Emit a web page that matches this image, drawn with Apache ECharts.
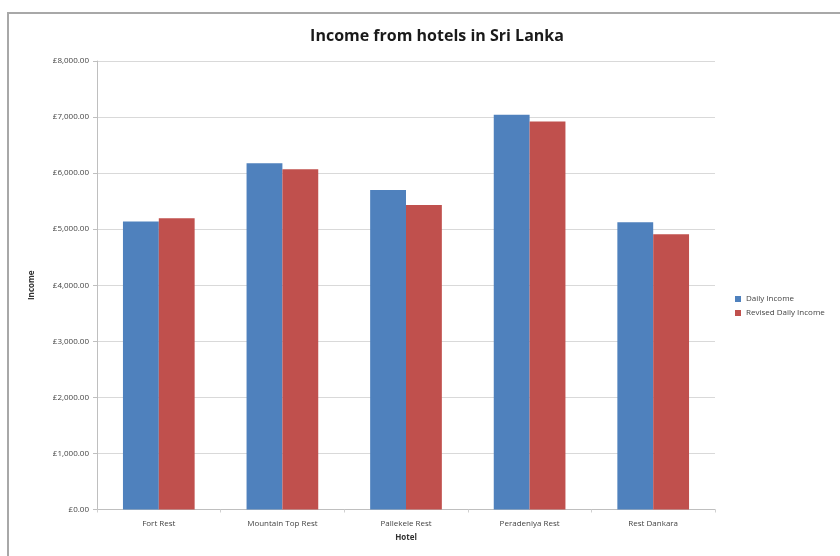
<!DOCTYPE html>
<html>
<head>
<meta charset="utf-8">
<script src="https://cdn.jsdelivr.net/npm/echarts@6/dist/echarts.min.js"></script>
<style>html,body{margin:0;padding:0;background:#fff;}#c{width:840px;height:556px;}</style>
</head>
<body>
<div id="c"></div>
<script>
const categories = ['Fort Rest', 'Mountain Top Rest', 'Pallekele Rest', 'Peradeniya Rest', 'Rest Dankara'];
const dailyIncome = [5138, 6176, 5698, 7041, 5125];
const revisedDailyIncome = [5197, 6069, 5430, 6921, 4910];
const yTicks = [0, 1000, 2000, 3000, 4000, 5000, 6000, 7000, 8000];
const seriesNames = ['Daily Income', 'Revised Daily Income'];

const chart = echarts.init(document.getElementById('c'), null, {renderer: 'canvas'});
const fmt = v => '£' + v.toLocaleString('en-GB', {minimumFractionDigits: 2, maximumFractionDigits: 2});
chart.setOption({
  backgroundColor: '#fff',
  animation: false,
  textStyle: {fontFamily: 'Open Sans'},
  title: {
    text: 'Income from hotels in Sri Lanka',
    left: 432, top: 23, textAlign: 'center',
    textStyle: {fontFamily: 'Open Sans', fontSize: 16, fontWeight: 'bold', color: '#1a1a1a'}
  },
  graphic: [{
    type: 'rect', silent: true, z: 100,
    shape: {x: 8, y: 13, width: 900, height: 700},
    style: {fill: 'none', stroke: '#a8a8a8', lineWidth: 2}
  }],
  legend: {
    orient: 'vertical', left: 730, top: 290,
    itemWidth: 6, itemHeight: 6, itemGap: 6,
    icon: 'rect',
    textStyle: {fontSize: 8, color: '#444', fontFamily: 'Open Sans'},
    data: seriesNames
  },
  grid: {left: 97, right: 125, top: 61, bottom: 46.5, containLabel: false},
  xAxis: {
    type: 'category', data: categories,
    name: 'Hotel', nameLocation: 'middle', nameGap: 24,
    nameTextStyle: {fontSize: 8, fontWeight: 'bold', color: '#333'},
    axisLine: {lineStyle: {color: '#bfbfbf'}},
    axisTick: {show: true, alignWithLabel: false, length: 3, lineStyle: {color: '#d0d0d0'}},
    axisLabel: {fontSize: 8, color: '#444', margin: 10}
  },
  yAxis: {
    type: 'value', min: 0, max: 8000, interval: 1000,
    name: 'Income', nameLocation: 'middle', nameGap: 61, nameRotate: 90,
    nameTextStyle: {fontSize: 8, fontWeight: 'bold', color: '#333'},
    axisLine: {show: true, lineStyle: {color: '#bfbfbf'}},
    axisTick: {show: true, length: 4, lineStyle: {color: '#bfbfbf'}},
    splitLine: {lineStyle: {color: '#d9d9d9'}},
    axisLabel: {fontSize: 8, color: '#444', margin: 8, formatter: v => yTicks.includes(v) ? fmt(v) : ''}
  },
  series: [
    {name: seriesNames[0], type: 'bar', data: dailyIncome, barGap: '0%', barCategoryGap: '42%', itemStyle: {color: '#4F81BD'}},
    {name: seriesNames[1], type: 'bar', data: revisedDailyIncome, itemStyle: {color: '#C0504D'}}
  ]
});
</script>
</body>
</html>
